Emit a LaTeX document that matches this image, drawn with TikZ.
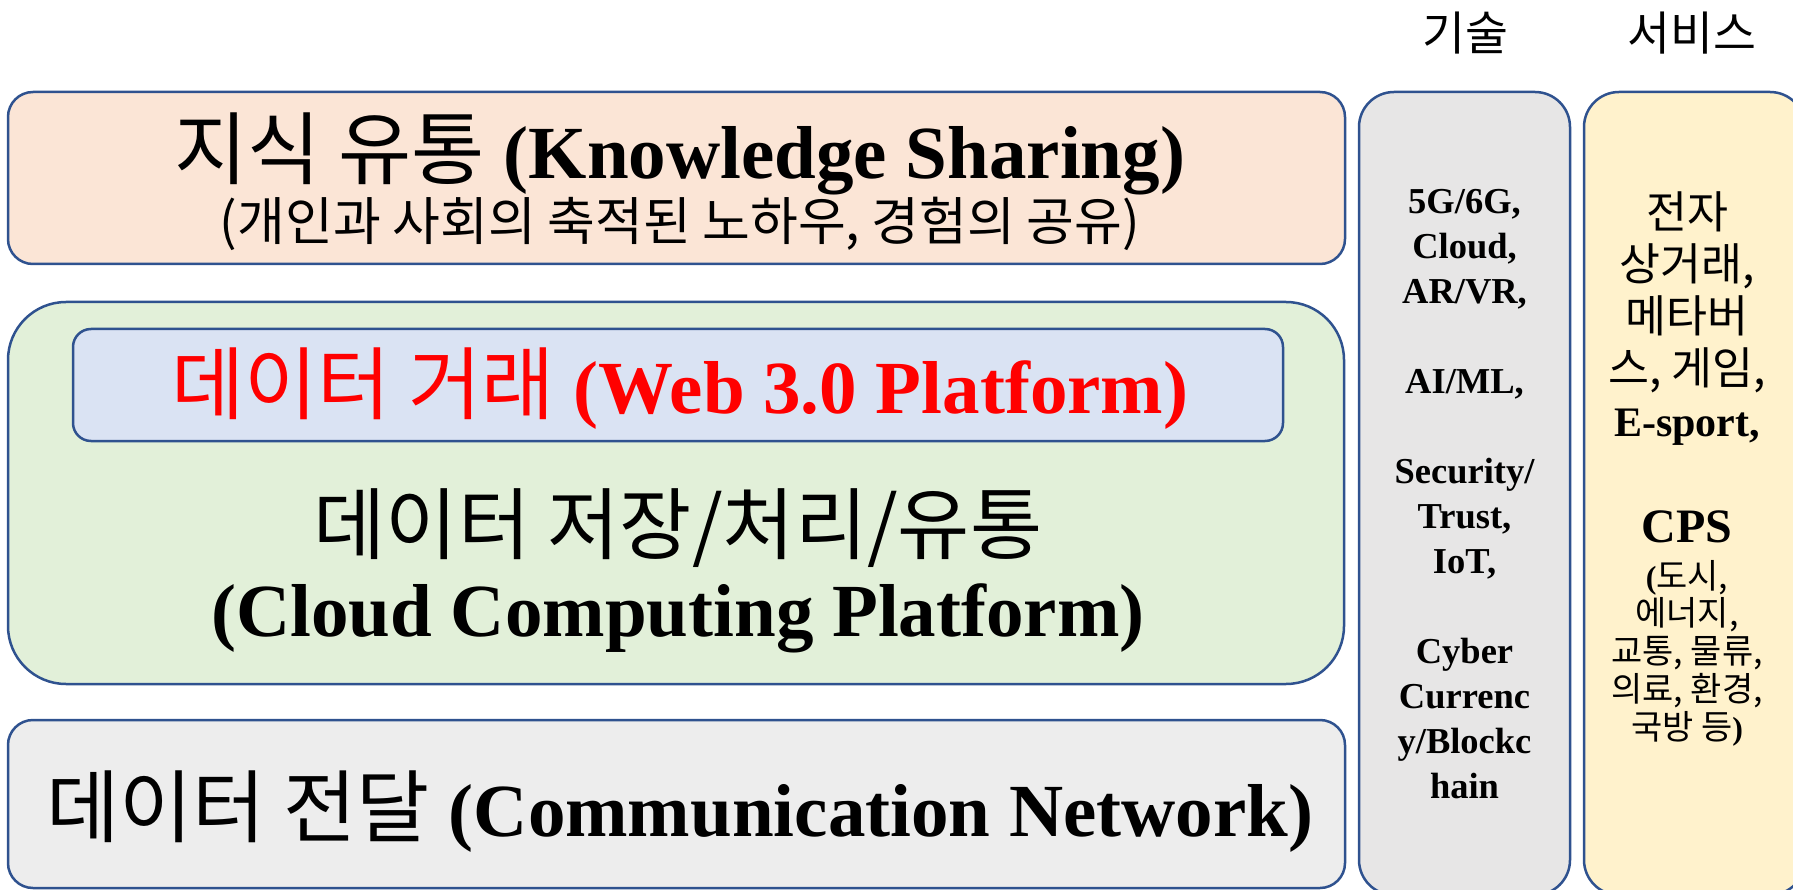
\documentclass[tikz,border=0pt]{standalone}
\usepackage{fontspec}
\setmainfont{Liberation Serif}
\newfontfamily\kr{Noto Sans CJK KR}[Scale=1.06]
\usepackage{xcolor}

\definecolor{edge}{HTML}{2F528F}
\definecolor{peach}{HTML}{FBE5D6}
\definecolor{mint}{HTML}{E2F0D9}
\definecolor{sky}{HTML}{DAE3F3}
\definecolor{ash}{HTML}{EDEDED}
\definecolor{stone}{HTML}{E7E6E6}
\definecolor{cream}{HTML}{FFF2CC}

\newcommand{\hg}[1]{{\kr\mdseries #1}}

\tikzset{
  layer/.style={draw=edge, line width=2.5pt, rectangle, rounded corners=#1, inner sep=0pt},
  layer/.default=25pt,
  big/.style={font=\bfseries\fontsize{75}{90}\selectfont, inner sep=0pt},
  colhead/.style={font=\kr\fontsize{44}{50}\selectfont, inner sep=0pt},
}

\begin{document}
\begin{tikzpicture}[x=1pt,y=-1pt]
\useasboundingbox (0,0) rectangle (1793,890);
\clip (0,0) rectangle (1793,890);

% layers
\node[layer, fill=peach, minimum width=1337pt, minimum height=172pt] (know) at (676.5,178) {};
\node[layer=58pt, fill=mint, minimum width=1336pt, minimum height=382pt] (cloud) at (676,493) {};
\node[layer=18pt, fill=sky, minimum width=1210pt, minimum height=112pt] (web) at (678,385) {};
\node[layer, fill=ash, minimum width=1337pt, minimum height=168pt] (net) at (676.5,804) {};

% columns
\node[layer=35pt, fill=stone, minimum width=211pt, minimum height=803pt] (tech) at (1464.5,493.5) {};
\node[layer=35pt, fill=cream, minimum width=221pt, minimum height=803pt] (svc) at (1694.5,493.5) {};
\node[colhead] (techhead) at (1465,33) {기술};
\node[colhead] (svchead) at (1692,33) {서비스};

% texts
\node[big] (knowtxt) at (680,154) {\hg{지식 유통} (Knowledge Sharing)};
\node[inner sep=0pt, font=\kr\fontsize{49}{56}\selectfont] (knowsub) at (680,224) {(개인과 사회의 축적된 노하우, 경험의 공유)};
\node[big, text=red] (webtxt) at (680,389) {\hg{데이터 거래} (Web 3.0 Platform)};
\node[inner sep=0pt, font=\kr\fontsize{74}{86}\selectfont] (cloudtxt) at (678,528) {데이터 저장/처리/유통};
\node[big] (cloudsub) at (678,618) {(Cloud Computing Platform)};
\node[big] (nettxt) at (680,812) {\hg{데이터 전달} (Communication Network)};

\node[align=center, inner sep=0pt, font=\bfseries\fontsize{36.5}{45}\selectfont] (techtxt) at (1464.5,494)
  {5G/6G,\\Cloud,\\AR/VR,\\[45pt]AI/ML,\\[45pt]Security/\\Trust,\\IoT,\\[45pt]Cyber\\Currenc\\y/Blockc\\hain};

\node[align=center, inner sep=0pt, font=\bfseries\fontsize{42}{52}\selectfont] (svctop) at (1687,319)
  {\hg{전자}\\\hg{상거래,}\\\hg{메타버}\\\hg{스, 게임,}\\E-sport,};
\node[inner sep=0pt, font=\bfseries\fontsize{48}{52}\selectfont] (cps) at (1687,527) {CPS};
\node[align=center, inner sep=0pt, font=\bfseries\fontsize{32}{37.8}\selectfont] (cpslist) at (1687,653)
  {(\hg{도시,}\\\hg{에너지,}\\\hg{교통, 물류,}\\\hg{의료, 환경,}\\\hg{국방 등})};
\end{tikzpicture}
\end{document}
